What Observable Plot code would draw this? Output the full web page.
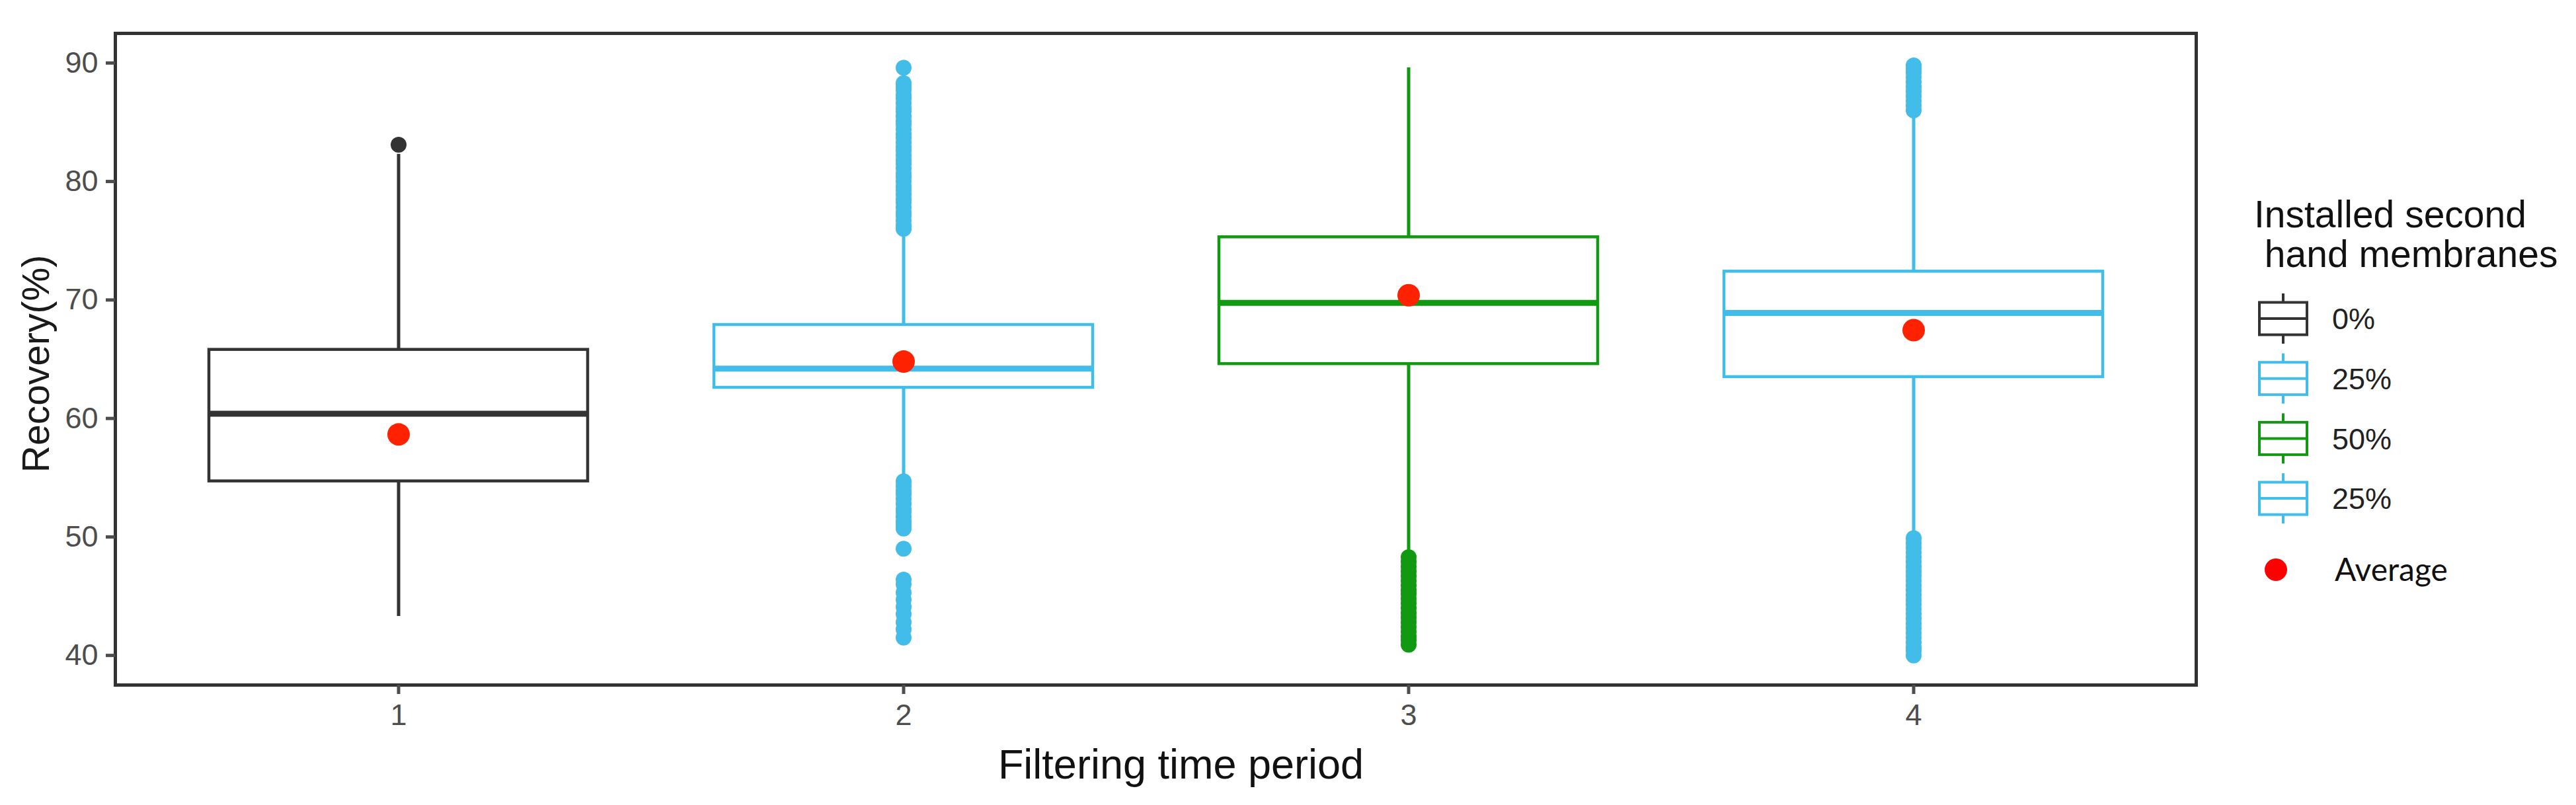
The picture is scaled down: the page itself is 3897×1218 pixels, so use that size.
<!DOCTYPE html>
<html>
<head>
<meta charset="utf-8">
<script src="https://cdn.jsdelivr.net/npm/d3@7"></script>
<script src="https://cdn.jsdelivr.net/npm/@observablehq/plot@0.6"></script>
<style>
  html, body { margin: 0; padding: 0; background: #fff; }
  #wrap { position: relative; width: 3897px; height: 1218px; overflow: hidden; font-family: "Liberation Sans", Arial, sans-serif; }
  #legend { position: absolute; left: 3380px; top: 0; }
</style>
</head>
<body>
<div id="wrap"></div>
<script>
// ---- data ----
const periods = ["1", "2", "3", "4"];
const groupLabels = ["0%", "25%", "50%", "25%"];
const q1 = [54.7, 62.6, 64.6, 63.5];
const medians = [60.4, 64.2, 69.75, 68.9];
const q3 = [65.8, 67.9, 75.3, 72.4];
const whiskerLow = [43.3, 55.2, 48.9, 50.3];
const whiskerHigh = [82.3, 75.8, 89.6, 85.7];
const means = [58.65, 64.8, 70.4, 67.45];
const outliers1 = [83.1];
const outliers2 = [76.0, 76.3, 76.7, 77.1, 77.4, 77.8, 78.2, 78.5, 78.9, 79.3, 79.6, 80.0, 80.4, 80.7, 81.1, 81.5, 81.8, 82.2, 82.6, 82.9, 83.3, 83.7, 84.0, 84.4, 84.8, 85.1, 85.5, 85.9, 86.2, 86.6, 87.0, 87.3, 87.7, 88.0, 88.3, 89.6,
  54.7, 54.3, 53.9, 53.6, 53.2, 52.8, 52.4, 52.1, 51.7, 51.3, 51.0, 50.7, 49.0, 46.4, 46.0, 45.3, 44.7, 44.1, 43.5, 42.8, 42.2, 41.5];
const outliers3 = [48.3, 47.9, 47.5, 47.1, 46.7, 46.3, 45.9, 45.5, 45.2, 44.8, 44.4, 44.0, 43.6, 43.2, 42.8, 42.4, 42.0, 41.6, 41.3, 40.9];
const outliers4 = [86.0, 86.4, 86.8, 87.2, 87.6, 88.0, 88.4, 88.8, 89.2, 89.5, 89.8,
  49.9, 49.5, 49.1, 48.7, 48.3, 47.9, 47.5, 47.1, 46.7, 46.3, 45.9, 45.5, 45.1, 44.7, 44.3, 43.9, 43.5, 43.1, 42.7, 42.3, 41.9, 41.5, 41.1, 40.7, 40.4, 40.0];
const yTicks = [40, 50, 60, 70, 80, 90];
const xTitle = "Filtering time period";
const yTitle = "Recovery(%)";
const legendTitleLines = ["Installed second", " hand membranes"];
const averageLabel = "Average";

// ---- styles ----
const boxColors = ["#333333", "#42bce8", "#129912", "#42bce8"];
const meanColor = "#ff2200";

const outliers = [outliers1, outliers2, outliers3, outliers4];
const boxes = periods.map((p, i) => ({
  period: p, group: groupLabels[i], q1: q1[i], median: medians[i], q3: q3[i],
  lo: whiskerLow[i], hi: whiskerHigh[i], mean: means[i]
}));
const outlierRows = periods.flatMap((p, i) => outliers[i].map(v => ({period: p, value: v})));

const chart = Plot.plot({
  width: 3897,
  height: 1218,
  marginLeft: 174,
  marginRight: 575,
  marginTop: 50,
  marginBottom: 182,
  style: {fontFamily: "'Liberation Sans', Arial, sans-serif", background: "white"},
  x: {type: "band", domain: periods, paddingInner: 0.25, paddingOuter: 0.185},
  y: {domain: [37.5, 92.5]},
  color: {type: "ordinal", domain: periods, range: boxColors},
  marks: [
    Plot.ruleX(boxes, {x: "period", y1: "lo", y2: "q1", stroke: "period", strokeWidth: 5}),
    Plot.ruleX(boxes, {x: "period", y1: "q3", y2: "hi", stroke: "period", strokeWidth: 5}),
    Plot.barY(boxes, {x: "period", y1: "q1", y2: "q3", fill: "white", stroke: "period", strokeWidth: 4.5}),
    Plot.tickY(boxes, {x: "period", y: "median", stroke: "period", strokeWidth: 9}),
    Plot.dot(outlierRows, {x: "period", y: "value", r: 12, fill: "period", stroke: "none"}),
    Plot.dot(boxes, {x: "period", y: "mean", r: 17, fill: meanColor, stroke: "none"}),
    Plot.frame({stroke: "#333", strokeWidth: 5}),
    Plot.axisY(yTicks, {tickSize: 14, tickPadding: 12, fontSize: 45, color: "#4d4d4d", strokeWidth: 5, label: null}),
    Plot.axisX({tickSize: 14, tickPadding: 15, fontSize: 45, color: "#4d4d4d", strokeWidth: 5, label: null}),
    Plot.text([yTitle], {frameAnchor: "left", text: d => d, rotate: -90, textAnchor: "middle", lineAnchor: "middle", dx: -119, dy: 7, fontSize: 57, fill: "#1a1a1a"}),
    Plot.text([xTitle], {frameAnchor: "bottom", text: d => d, textAnchor: "middle", lineAnchor: "middle", dx: 38, dy: 121, fontSize: 63, fill: "#111"})
  ]
});

const wrap = document.getElementById("wrap");
wrap.appendChild(chart);

// ---- legend (right side) ----
const legend = d3.create("svg")
  .attr("id", "legend")
  .attr("width", 517)
  .attr("height", 1218)
  .style("font-family", "'Liberation Sans', Arial, sans-serif");

legend.selectAll("text.title")
  .data(legendTitleLines)
  .join("text")
  .attr("class", "title")
  .attr("x", 30)
  .attr("y", (d, i) => 344 + i * 60)
  .attr("font-size", 57)
  .attr("fill", "#111")
  .style("white-space", "pre")
  .attr("xml:space", "preserve")
  .text(d => d);

const keys = legend.selectAll("g.key")
  .data(groupLabels)
  .join("g")
  .attr("class", "key")
  .attr("transform", (d, i) => `translate(0,${482 + i * 90.7})`);

keys.append("line").attr("x1", 74).attr("x2", 74).attr("y1", -38).attr("y2", 38)
  .attr("stroke", (d, i) => boxColors[i]).attr("stroke-width", 4);
keys.append("rect").attr("x", 38).attr("y", -24.5).attr("width", 72).attr("height", 49)
  .attr("fill", "white").attr("stroke", (d, i) => boxColors[i]).attr("stroke-width", 4);
keys.append("line").attr("x1", 38).attr("x2", 110).attr("y1", 0).attr("y2", 0)
  .attr("stroke", (d, i) => boxColors[i]).attr("stroke-width", 4);
keys.append("text").attr("x", 148).attr("y", 0).attr("dy", "0.36em")
  .attr("font-size", 45).attr("fill", "#222").text(d => d);

legend.append("circle").attr("cx", 63).attr("cy", 862).attr("r", 17).attr("fill", "#ff0000");
legend.append("text").attr("x", 152).attr("y", 862).attr("dy", "0.36em")
  .attr("font-size", 48).attr("font-family", "Lato, 'Open Sans', sans-serif").attr("fill", "#111")
  .text(averageLabel);

wrap.appendChild(legend.node());
</script>
</body>
</html>
